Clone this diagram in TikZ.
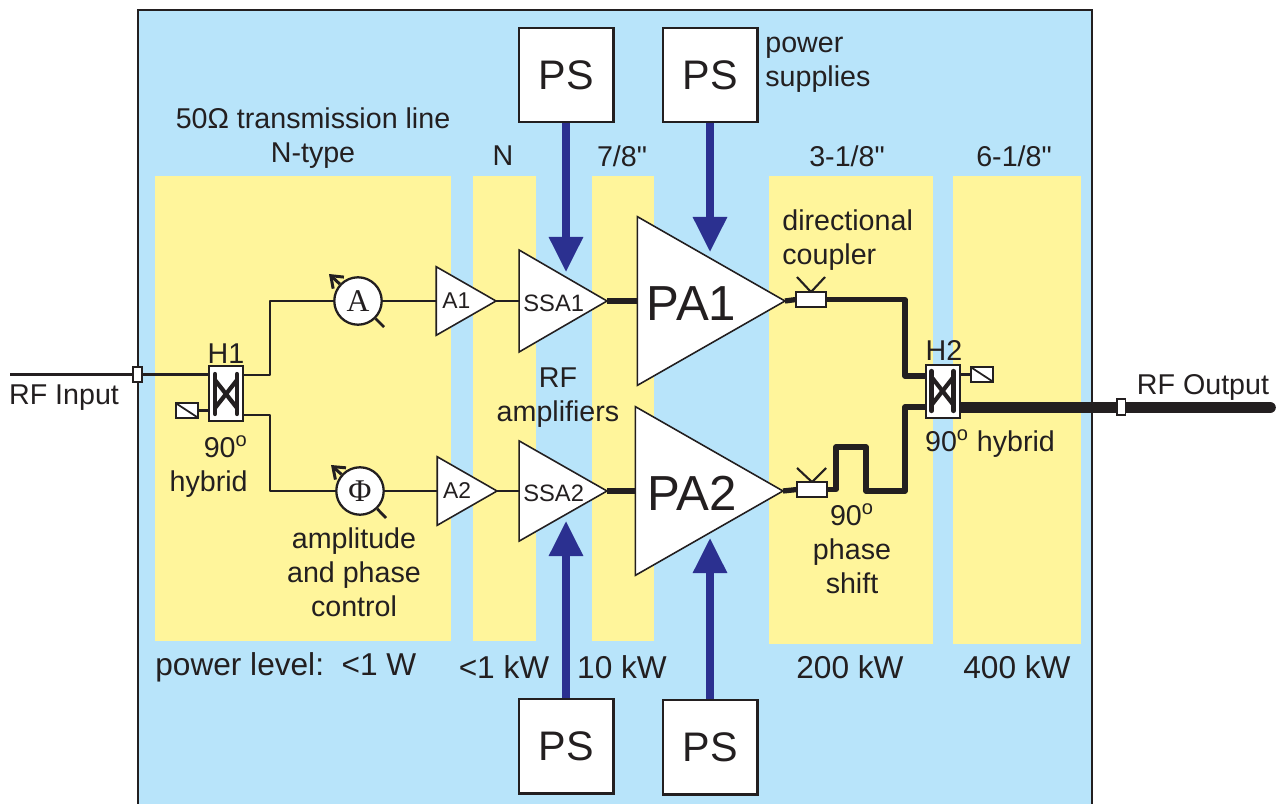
\documentclass[tikz,border=0pt]{standalone}
\usepackage{fontspec}
\setmainfont{Liberation Sans}
\newfontfamily\symfont{Liberation Serif}
\newfontfamily\inchfont{Liberation Sans}
\usetikzlibrary{shapes.geometric,arrows.meta}
\definecolor{bgblue}{HTML}{B8E4FA}
\definecolor{bgyellow}{HTML}{FFF59B}
\definecolor{inkdark}{HTML}{231F20}
\definecolor{pwrblue}{HTML}{2B3090}
\tikzset{
  lbl/.style={font=\fontsize{16.3}{19.3}\selectfont, text=inkdark, inner sep=0pt, align=center},
  lvllbl/.style={lbl, font=\fontsize{18}{20}\selectfont},
  band/.style={fill=bgyellow, draw=none},
  psbox/.style={draw=inkdark, fill=white, line width=1.2pt, minimum width=54pt, minimum height=54pt, inner sep=0pt, font=\fontsize{23.5}{26}\selectfont, text=inkdark},
  amp/.style={isosceles triangle, isosceles triangle stretches, draw=inkdark, fill=white, line width=0.9pt, inner sep=0pt, outer sep=0pt, anchor=apex, text=inkdark},
  ctrl/.style={circle, draw=inkdark, fill=white, line width=1.3pt, minimum size=27pt, inner sep=0pt, font=\symfont\fontsize{18}{20}\selectfont, text=inkdark},
  port/.style={rectangle, draw=inkdark, fill=white, line width=1pt, inner sep=0pt, outer sep=0pt},
  hybrid/.style={port, line width=1.3pt, minimum width=19pt},
  termbox/.style={port, line width=1.2pt, minimum width=13pt, minimum height=8.5pt},
  coupler/.style={port, line width=1.2pt, minimum width=17pt, minimum height=8.5pt},
  thinln/.style={draw=inkdark, line width=1.6pt, line join=round},
  midln/.style={draw=inkdark, line width=3pt, line join=round},
  bigln/.style={draw=inkdark, line width=6.6pt, line cap=round},
  pwr/.style={draw=pwrblue, line width=4pt, -{Triangle[width=18.7pt,length=20pt]}},
  ctrlarrow/.style={draw=inkdark, line width=1.7pt, -{Straight Barb[length=6pt,width=9pt]}},
}
\newcommand{\lowtxt}[1]{\raisebox{-1.6pt}[\height][\depth]{#1}}
\begin{document}
\begin{tikzpicture}[x=0.02cm, y=-0.02cm]
\clip (0,0) rectangle (1284,804);
% background
\fill[bgblue] (138,10) rectangle (1092,810);
\draw[inkdark, line width=0.9pt] (138,810) -- (138,10) -- (1092,10) -- (1092,810);
\fill[band] (155,176) rectangle (451,641);
\fill[band] (473,176) rectangle (536,641);
\fill[band] (592,176) rectangle (654,641);
\fill[band] (769,176) rectangle (933,644);
\fill[band] (953,176) rectangle (1081,644);

% power supplies
\node[psbox] (ps1) at (566,75) {PS};
\node[psbox] (ps2) at (710,75) {PS};
\node[psbox] (ps3) at (566,746) {PS};
\node[psbox] (ps4) at (710,747) {PS};

% amplifiers
\node[amp, minimum height=34pt, minimum width=39pt, font=\fontsize{13}{15}\selectfont] (a1) at (496,301) {A1};
\node[amp, minimum height=34pt, minimum width=39pt, font=\fontsize{13}{15}\selectfont] (a2) at (497,491) {A2};
\node[amp, minimum height=50pt, minimum width=58pt, font=\fontsize{13.5}{15}\selectfont] (ssa1) at (607,301) {\lowtxt{SSA1}};
\node[amp, minimum height=50pt, minimum width=57pt, font=\fontsize{13.5}{15}\selectfont] (ssa2) at (607,491) {\lowtxt{SSA2}};
\node[amp, minimum height=84pt, minimum width=96pt, font=\fontsize{28}{30}\selectfont] (pa1) at (785,301) {\lowtxt{PA1}};
\node[amp, minimum height=84pt, minimum width=96pt, font=\fontsize{28}{30}\selectfont] (pa2) at (783,491) {\hspace*{2pt}\lowtxt{PA2}};

% amplitude and phase control
\node[ctrl] (actrl) at (358,301) {A};
\node[ctrl] (phictrl) at (360,491) {Φ};
\coordinate (atip) at (329,274);
\coordinate (atail) at (384,327);
\coordinate (phitip) at (331,465);
\coordinate (phitail) at (386,518);
\draw[ctrlarrow] (actrl) -- (atip);
\draw[thinln] (actrl) -- (atail);
\draw[ctrlarrow] (phictrl) -- (phitip);
\draw[thinln] (phictrl) -- (phitail);

% output line
\coordinate (h2out) at (950,407.5);
\coordinate (rfout) at (1270,407.5);
\draw[bigln] (h2out) -- (rfout);

% hybrids
\node[hybrid, minimum height=31pt] (h1) at (226,393.5) {};
\node[hybrid, minimum height=30pt] (h2) at (943,391.5) {};
\foreach \hx/\hy in {226/394, 942.5/391}{
  \draw[inkdark, line width=2.4pt, line cap=round] (\hx-11,\hy-20) -- (\hx-11,\hy+20);
  \draw[inkdark, line width=2.4pt, line cap=round] (\hx+11,\hy-20) -- (\hx+11,\hy+20);
  \draw[inkdark, line width=2.4pt] (\hx-11,\hy-14) -- (\hx+11,\hy+14);
  \draw[inkdark, line width=2.4pt] (\hx-11,\hy+14) -- (\hx+11,\hy-14);
}
\node[termbox] (term1) at (187,410.5) {};
\node[termbox] (term2) at (982,374.5) {};
\draw[inkdark, line width=1pt] (term1.north west) -- (term1.south east);
\draw[inkdark, line width=1pt] (term2.north west) -- (term2.south east);
\draw[thinln] (term1.east) -- (h1.west |- term1.east);
\draw[thinln] (term2.west) -- (h2.east |- term2.west);

% couplers
\node[coupler] (dc1) at (811,299.5) {};
\node[coupler] (dc2) at (812,489.5) {};
\coordinate (dc1a) at (797,277);
\coordinate (dc1b) at (825,277);
\coordinate (dc2a) at (797,468);
\coordinate (dc2b) at (826,468);
\draw[thinln, line width=1.2pt] (dc1a) -- (dc1.north) -- (dc1b);
\draw[thinln, line width=1.2pt] (dc2a) -- (dc2.north) -- (dc2b);

% ports
\node[port, minimum width=5pt, minimum height=8.5pt] (inport) at (137.5,374.5) {};
\coordinate (rfin) at (10,374.5);
\coordinate (h1up) at (243,375);
\coordinate (h1dn) at (243,415);
\coordinate (h2up) at (926,376);
\coordinate (h2dn) at (926,407);

% thin lines
\draw[thinln] (rfin) -- (inport);
\draw[thinln] (inport) -- (h1.west |- inport);
\draw[thinln] (h1up) -- (270,375) -- (270,301) -- (actrl);
\draw[thinln] (h1dn) -- (270,415) -- (270,491) -- (phictrl);
\draw[thinln] (actrl) -- (a1.lower side);
\draw[thinln] (phictrl) -- (a2.lower side);
\draw[thinln] (a1.apex) -- (ssa1.lower side);
\draw[thinln] (a2.apex) -- (ssa2.lower side);

% thick lines
\draw[midln] (ssa1.apex) -- (pa1.lower side);
\draw[midln] (ssa2.apex) -- (pa2.lower side);
\draw[midln] (pa1.apex) -- (dc1.west);
\draw[midln] (pa2.apex) -- (dc2.west);
\draw[midln] (dc1.east) -- (905,299.5) -- (905,376) -- (h2up);
\draw[midln] (dc2.east) -- (836,489.5) -- (836,447) -- (866,447) -- (866,491) -- (905,491) -- (905,407) -- (h2dn);
\node[port, minimum width=5pt, minimum height=9pt] (outport) at (1121,407) {};

% power arrows
\coordinate (tip1) at (566,272);
\coordinate (tip2) at (710,252);
\coordinate (tip3) at (566,521);
\coordinate (tip4) at (710,538);
\draw[pwr] (ps1) -- (tip1);
\draw[pwr] (ps2) -- (tip2);
\draw[pwr] (ps3) -- (tip3);
\draw[pwr] (ps4) -- (tip4);

% labels
\node[lbl] (linelbl) at (313,138) {50Ω transmission line\\N-type};
\node[lbl] (nlbl) at (503,156) {N};
\node[lbl] (seven) at (622,156) {\inchfont 7/8"};
\node[lbl] (three) at (847,156) {\inchfont 3-1/8"};
\node[lbl] (six) at (1014,156) {\inchfont 6-1/8"};
\node[lbl, align=left, anchor=west] (pslbl) at (765,65) {power\\supplies};
\node[lbl] (h1lbl) at (226,354) {H1};
\node[lbl] (h2lbl) at (944,350) {H2};
\node[lbl, align=right, anchor=east] (hyb1) at (248,467) {90\textsuperscript{o}\\hybrid};
\node[lbl] (hyb2) at (990,444) {90\textsuperscript{o} hybrid};
\node[lbl] (inlbl) at (64,398) {RF Input};
\node[lbl] (outlbl) at (1203,387) {RF Output};
\node[lbl] (rfamp) at (558,398) {RF\\amplifiers};
\node[lbl, align=left, anchor=west] (dclbl) at (782,240) {directional\\coupler};
\node[lbl] (ctrllbl) at (354,572) {amplitude\\and phase\\control};
\node[lbl] (shiftlbl) at (852,549) {90\textsuperscript{o}\\phase\\shift};
\node[lvllbl, anchor=west] (lvl) at (155,667) {power level:\ \ <1 W};
\node[lvllbl] (lvlb) at (504,667) {<1 kW};
\node[lvllbl] (lvlc) at (622,667) {10 kW};
\node[lvllbl] (lvld) at (850,667) {200 kW};
\node[lvllbl] (lvle) at (1017,667) {400 kW};
\end{tikzpicture}
\end{document}
